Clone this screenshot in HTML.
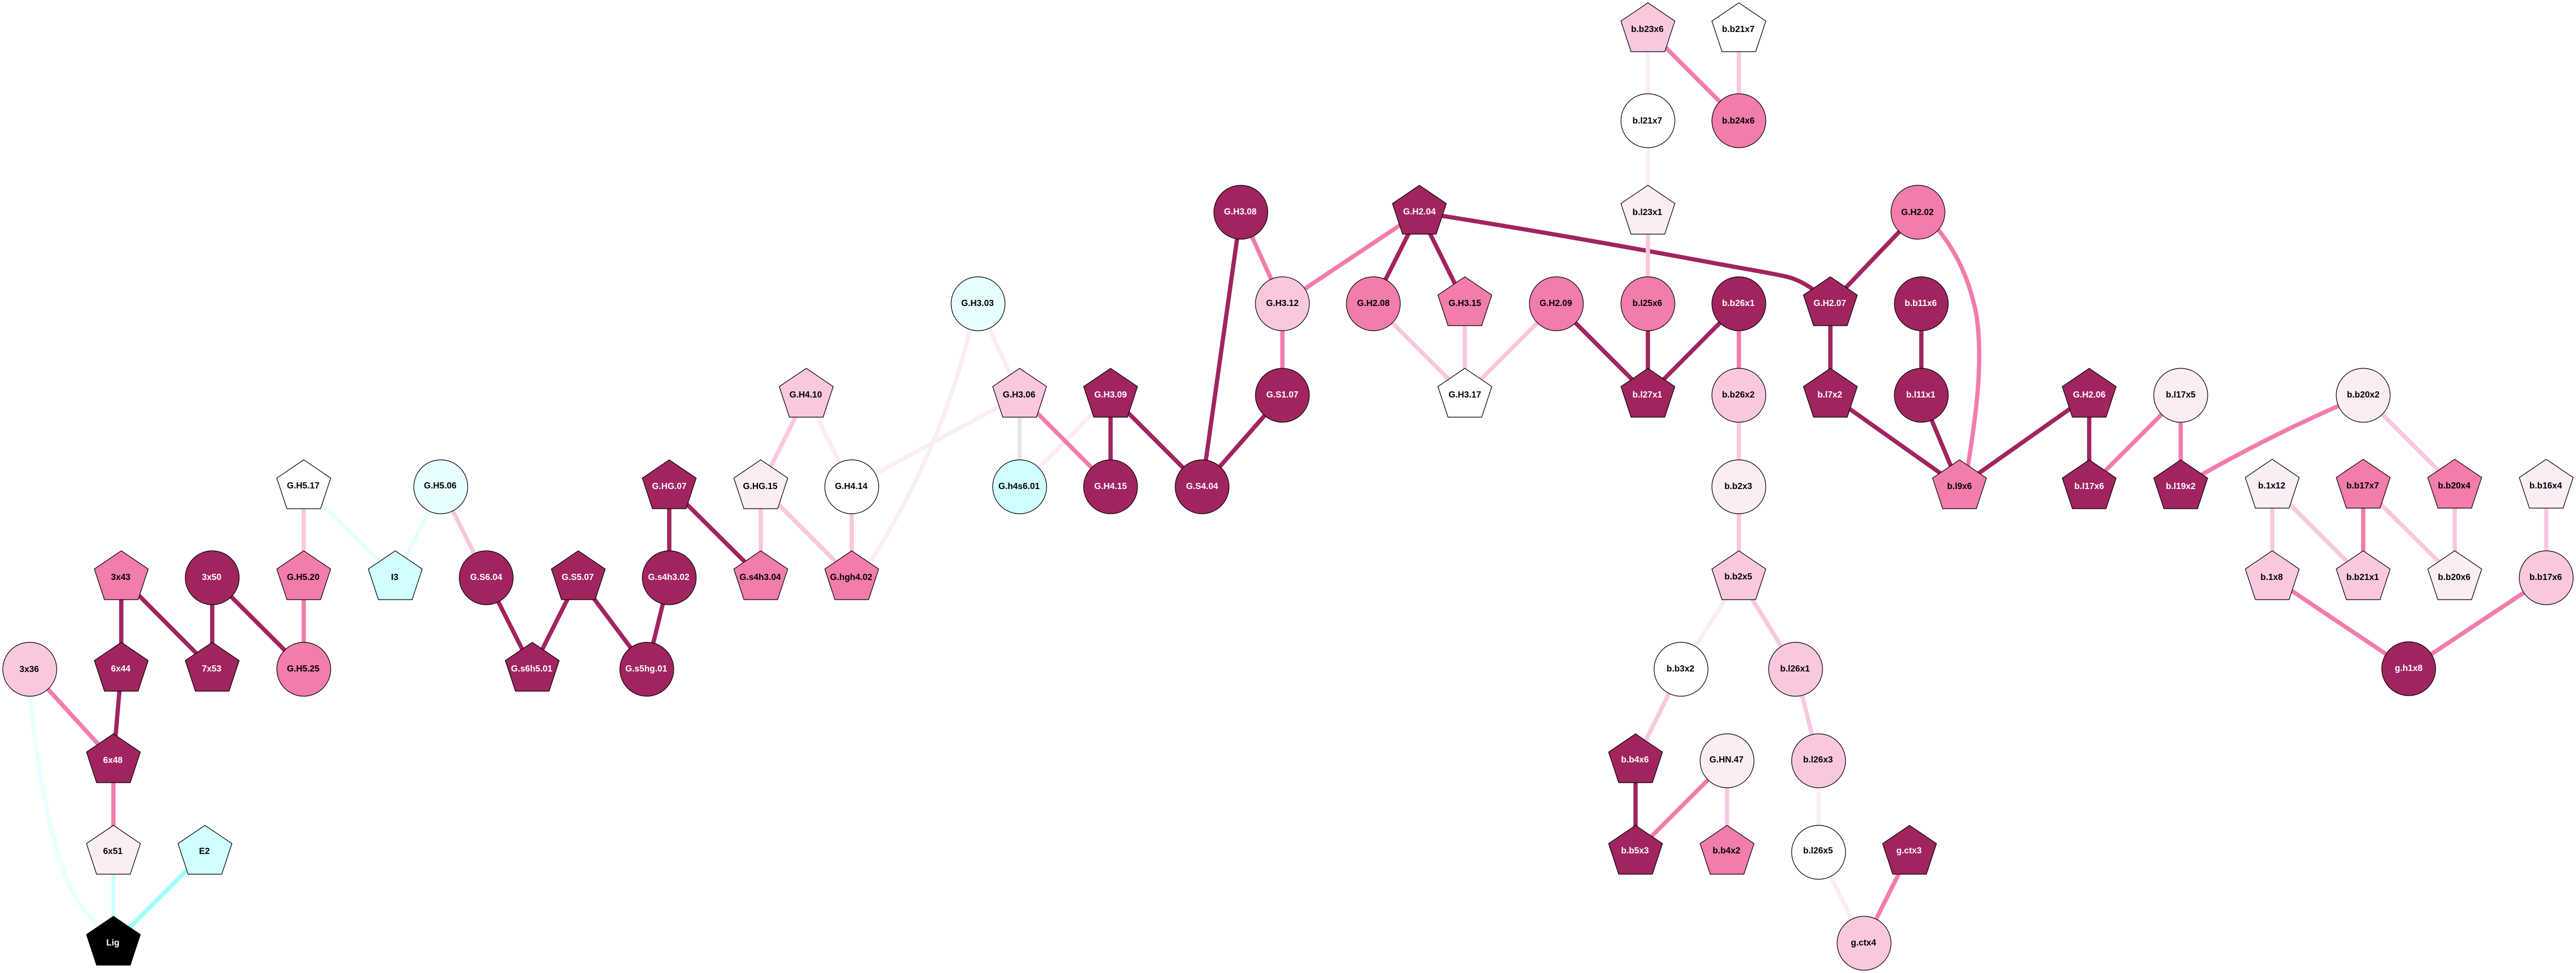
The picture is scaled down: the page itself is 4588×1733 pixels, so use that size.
<!DOCTYPE html>
<html><head><meta charset="utf-8"><title>Network</title>
<style>
html,body{margin:0;padding:0;background:#fff}
svg{display:block}
.e{fill:none;stroke-width:7.6}
.d{fill:#a1245f}.m{fill:#f27cab}.l{fill:#f9c8de}.v{fill:#fbedf4}.w{fill:#fff}.a{fill:#e8ffff}.b{fill:#d0ffff}.k{fill:#000}
text{font-family:"Liberation Sans",Arial,sans-serif;font-weight:bold;font-size:15.6px;text-anchor:middle;fill:#000}
text.t{fill:#fff}
</style></head><body>
<svg width="4588" height="1733" viewBox="0 0 4588 1733" xmlns="http://www.w3.org/2000/svg">
<defs>
<polygon id="p" points="0,-48 48,-15.5 30,39 -30,39 -48,-15.5" stroke="#000" stroke-width="1.2"/>
<ellipse id="c" rx="48" ry="48" stroke="#000" stroke-width="1.2"/>
</defs>
<rect width="4588" height="1733" fill="#fff"/>

<!-- very light edges -->
<path class="e" stroke="#fbedf4" d="M1436,704L1517,867M1517,867L1816,704M1732,570C1695,730 1630,880 1532,1029M1742,541L1816,704M1978,704L1816,867M2935,53L2935,215M2935,215L2935,378M3097,1029L2994,1192M3239,1355L3239,1518M3239,1518L3320,1680"/>
<!-- cyan edges -->
<path class="e" stroke="#e8ffff" d="M541,867L704,1029M785,867L704,1029M54,1240C62,1340 85,1480 122,1574C135,1605 160,1635 190,1665"/>
<path class="e" stroke="#d0ffff" d="M202,1518L202,1681"/>
<path class="e" stroke="#99ffff" d="M365,1518L202,1681"/>
<path class="e" stroke="#e6e6e6" d="M1816,704L1816,867"/>
<!-- dark curve sits under the light vertical that crosses it -->
<path class="e" stroke="#a1245f" d="M2528,378C2700,405 2900,440 3060,470C3120,481 3170,489 3190,495C3215,503 3240,522 3260,541"/>
<!-- light edges -->
<path class="e" stroke="#f9c8de" d="M541,867L541,1029M785,867L866,1029M1355,867L1355,1029M1355,867L1517,1029M1517,867L1517,1029M1436,704L1355,867M2446,541L2609,704M2609,541L2609,704M2772,541L2609,704M3097,704L3097,867M3097,867L3097,1029M2935,378L2935,541M3097,53L3097,215M4209,704L4372,867M4209,867L4372,1029M4047,867L4047,1029M4047,867L4209,1029M4372,867L4372,1029M4535,867L4535,1029M3097,1029L3198,1192M2994,1192L2913,1355M3198,1192L3239,1355M3076,1355L3076,1518"/>
<!-- mid edges -->
<path class="e" stroke="#f27cab" d="M541,1029L541,1192M53,1192L202,1355M202,1355L202,1518M1816,704L1978,867M2210,378L2284,541M2284,541L2284,704M2528,378L2284,541M3097,541L3097,704M2935,53L3097,215M3440,395C3490,450 3510,510 3520,560C3532,640 3522,730 3500,860M3884,704L3721,867M3884,704L3884,867M4209,704Q4040,775 3884,867M4209,867L4209,1029M4047,1029L4290,1192M4535,1029L4290,1192M3076,1355L2913,1518M3401,1518L3320,1680"/>
<!-- dark edges -->
<path class="e" stroke="#a1245f" d="M216,1029L216,1192M216,1029L378,1192M378,1029L378,1192M378,1029L541,1192M216,1192L202,1355M866,1029L948,1192M1030,1029L948,1192M1030,1029L1152,1192M1192,1029L1152,1192M1192,867L1192,1029M1192,867L1355,1029M1978,704L1978,867M1978,704L2141,867M2210,378L2141,867M2284,704L2141,867M2528,378L2446,541M2528,378L2609,541M2772,541L2935,704M2935,541L2935,704M3097,541L2935,704M3416,378L3260,541M3260,541L3260,704M3260,704L3490,867M3422,541L3422,704M3422,704L3490,867M3721,704L3490,867M3721,704L3721,867M2913,1355L2913,1518"/>

<!-- nodes -->
<use href="#c" x="53" y="1192" class="l"/><text x="52" y="1197">3x36</text>
<use href="#p" x="216" y="1029" class="m"/><text x="215" y="1033">3x43</text>
<use href="#c" x="378" y="1029" class="d"/><text x="377" y="1033" class="t">3x50</text>
<use href="#p" x="541" y="1029" class="m"/><text x="540" y="1033">G.H5.20</text>
<use href="#p" x="704" y="1029" class="b"/><text x="703" y="1033">I3</text>
<use href="#p" x="541" y="867" class="w"/><text x="540" y="870">G.H5.17</text>
<use href="#c" x="785" y="867" class="a"/><text x="784" y="870">G.H5.06</text>
<use href="#p" x="216" y="1192" class="d"/><text x="215" y="1196" class="t">6x44</text>
<use href="#p" x="378" y="1192" class="d"/><text x="377" y="1196" class="t">7x53</text>
<use href="#c" x="541" y="1192" class="m"/><text x="540" y="1196">G.H5.25</text>
<use href="#p" x="202" y="1355" class="d"/><text x="201" y="1359" class="t">6x48</text>
<use href="#p" x="202" y="1518" class="v"/><text x="201" y="1521">6x51</text>
<use href="#p" x="365" y="1518" class="b"/><text x="364" y="1521">E2</text>
<use href="#p" x="202" y="1680" class="k"/><text x="201" y="1684" class="t">Lig</text>

<use href="#c" x="866" y="1029" class="d"/><text x="866" y="1033" class="t">G.S6.04</text>
<use href="#p" x="1030" y="1029" class="d"/><text x="1029" y="1033" class="t">G.S5.07</text>
<use href="#c" x="1192" y="1029" class="d"/><text x="1191" y="1033" class="t">G.s4h3.02</text>
<use href="#p" x="1355" y="1029" class="m"/><text x="1354" y="1033">G.s4h3.04</text>
<use href="#p" x="1517" y="1029" class="m"/><text x="1516" y="1033">G.hgh4.02</text>
<use href="#p" x="1192" y="867" class="d"/><text x="1192" y="871" class="t">G.HG.07</text>
<use href="#p" x="1355" y="867" class="v"/><text x="1354" y="871">G.HG.15</text>
<use href="#c" x="1517" y="867" class="w"/><text x="1516" y="871">G.H4.14</text>
<use href="#p" x="1436" y="704" class="l"/><text x="1435" y="708">G.H4.10</text>
<use href="#p" x="948" y="1192" class="d"/><text x="947" y="1196" class="t">G.s6h5.01</text>
<use href="#c" x="1152" y="1192" class="d"/><text x="1151" y="1196" class="t">G.s5hg.01</text>

<use href="#c" x="1742" y="541" class="a"/><text x="1741" y="545">G.H3.03</text>
<use href="#p" x="1816" y="704" class="l"/><text x="1815" y="708">G.H3.06</text>
<use href="#p" x="1978" y="704" class="d"/><text x="1978" y="708" class="t">G.H3.09</text>
<use href="#c" x="1816" y="867" class="b"/><text x="1815" y="871">G.h4s6.01</text>
<use href="#c" x="1978" y="867" class="d"/><text x="1978" y="871" class="t">G.H4.15</text>
<use href="#c" x="2141" y="867" class="d"/><text x="2141" y="871" class="t">G.S4.04</text>
<use href="#c" x="2284" y="704" class="d"/><text x="2284" y="708" class="t">G.S1.07</text>
<use href="#c" x="2284" y="541" class="l"/><text x="2284" y="545">G.H3.12</text>
<use href="#c" x="2210" y="378" class="d"/><text x="2209" y="382" class="t">G.H3.08</text>
<use href="#p" x="2528" y="378" class="d"/><text x="2528" y="382" class="t">G.H2.04</text>
<use href="#c" x="2446" y="541" class="m"/><text x="2446" y="545">G.H2.08</text>
<use href="#p" x="2609" y="541" class="m"/><text x="2609" y="545">G.H3.15</text>
<use href="#c" x="2772" y="541" class="m"/><text x="2771" y="545">G.H2.09</text>
<use href="#p" x="2609" y="704" class="w"/><text x="2609" y="708">G.H3.17</text>

<use href="#p" x="2935" y="53" class="l"/><text x="2934" y="57">b.b23x6</text>
<use href="#p" x="3097" y="53" class="w"/><text x="3096" y="57">b.b21x7</text>
<use href="#c" x="2935" y="215" class="w"/><text x="2934" y="220">b.l21x7</text>
<use href="#c" x="3097" y="215" class="m"/><text x="3096" y="220">b.b24x6</text>
<use href="#p" x="2935" y="378" class="v"/><text x="2934" y="383">b.l23x1</text>
<use href="#c" x="3416" y="378" class="m"/><text x="3415" y="383">G.H2.02</text>
<use href="#c" x="2935" y="541" class="m"/><text x="2934" y="545">b.l25x6</text>
<use href="#c" x="3097" y="541" class="d"/><text x="3096" y="545" class="t">b.b26x1</text>
<use href="#p" x="3260" y="541" class="d"/><text x="3259" y="545" class="t">G.H2.07</text>
<use href="#c" x="3422" y="541" class="d"/><text x="3421" y="545" class="t">b.b11x6</text>
<use href="#p" x="2935" y="704" class="d"/><text x="2934" y="708" class="t">b.l27x1</text>
<use href="#c" x="3097" y="704" class="l"/><text x="3096" y="708">b.b26x2</text>
<use href="#p" x="3260" y="704" class="d"/><text x="3259" y="708" class="t">b.l7x2</text>
<use href="#c" x="3422" y="704" class="d"/><text x="3421" y="708" class="t">b.l11x1</text>

<use href="#p" x="3490" y="867" class="m"/><text x="3490" y="871">b.l9x6</text>
<use href="#p" x="3721" y="704" class="d"/><text x="3721" y="708" class="t">G.H2.06</text>
<use href="#p" x="3721" y="867" class="d"/><text x="3721" y="871" class="t">b.l17x6</text>
<use href="#c" x="3884" y="704" class="v"/><text x="3884" y="708">b.l17x5</text>
<use href="#p" x="3884" y="867" class="d"/><text x="3884" y="871" class="t">b.l19x2</text>
<use href="#c" x="4209" y="704" class="v"/><text x="4209" y="708">b.b20x2</text>
<use href="#p" x="4047" y="866" class="v"/><text x="4046" y="870">b.1x12</text>
<use href="#p" x="4209" y="866" class="m"/><text x="4208" y="870">b.b17x7</text>
<use href="#p" x="4372" y="866" class="m"/><text x="4371" y="870">b.b20x4</text>
<use href="#p" x="4535" y="866" class="v"/><text x="4534" y="870">b.b16x4</text>
<use href="#p" x="4047" y="1029" class="l"/><text x="4046" y="1033">b.1x8</text>
<use href="#p" x="4209" y="1029" class="l"/><text x="4208" y="1033">b.b21x1</text>
<use href="#p" x="4372" y="1029" class="v"/><text x="4371" y="1033">b.b20x6</text>
<use href="#c" x="4535" y="1029" class="l"/><text x="4534" y="1033">b.b17x6</text>
<use href="#c" x="4290" y="1191" class="d"/><text x="4290" y="1195" class="t">g.h1x8</text>

<use href="#c" x="3097" y="867" class="v"/><text x="3096" y="871">b.b2x3</text>
<use href="#p" x="3097" y="1029" class="l"/><text x="3096" y="1032">b.b2x5</text>
<use href="#c" x="2994" y="1192" class="w"/><text x="2993" y="1196">b.b3x2</text>
<use href="#c" x="3198" y="1192" class="l"/><text x="3197" y="1196">b.l26x1</text>
<use href="#p" x="2913" y="1355" class="d"/><text x="2912" y="1358" class="t">b.b4x6</text>
<use href="#c" x="3076" y="1355" class="v"/><text x="3075" y="1358">G.HN.47</text>
<use href="#c" x="3239" y="1355" class="l"/><text x="3238" y="1358">b.l26x3</text>
<use href="#p" x="2913" y="1518" class="d"/><text x="2912" y="1520" class="t">b.b5x3</text>
<use href="#p" x="3076" y="1518" class="m"/><text x="3075" y="1520">b.b4x2</text>
<use href="#c" x="3239" y="1518" class="w"/><text x="3238" y="1520">b.l26x5</text>
<use href="#p" x="3401" y="1518" class="d"/><text x="3400" y="1520" class="t">g.ctx3</text>
<use href="#c" x="3320" y="1680" class="l"/><text x="3319" y="1684">g.ctx4</text>
</svg>
</body></html>
